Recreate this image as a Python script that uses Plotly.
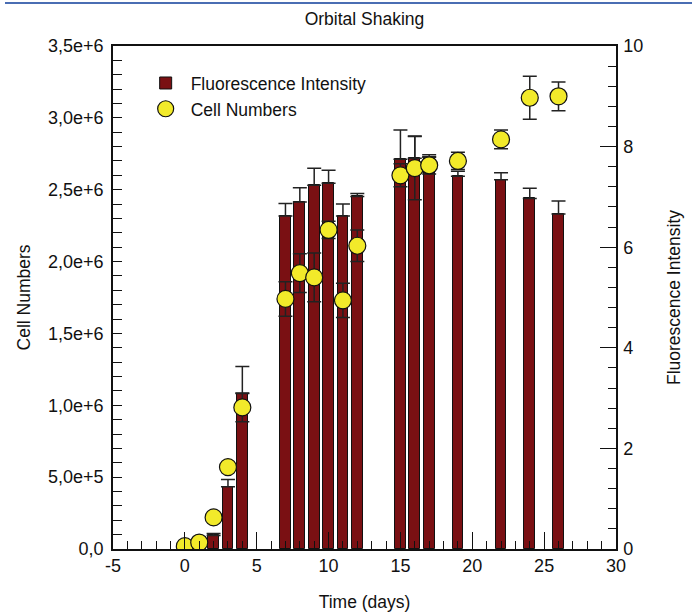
import plotly.graph_objects as go

# ---- data ----
fluo_days = [2, 3, 4, 7, 8, 9, 10, 11, 12, 15, 16, 17, 19, 22, 24, 26]
fluo_vals = [0.27, 1.24, 3.09, 6.62, 6.90, 7.23, 7.27, 6.62, 7.01, 7.75, 7.77, 7.79, 7.41, 7.34, 6.97, 6.66]
fluo_err = [0.04, 0.14, 0.54, 0.25, 0.28, 0.34, 0.26, 0.24, 0.06, 0.58, 0.44, 0.05, 0.10, 0.14, 0.20, 0.26]

cell_days = [0, 1, 2, 3, 4, 7, 8, 9, 10, 11, 12, 15, 16, 17, 19, 22, 24, 26]
cell_vals = [0.02e6, 0.045e6, 0.22e6, 0.57e6, 0.985e6, 1.74e6, 1.92e6, 1.89e6, 2.22e6, 1.73e6, 2.11e6,
             2.60e6, 2.65e6, 2.67e6, 2.70e6, 2.85e6, 3.14e6, 3.15e6]
cell_err = [0, 0, 0, 0, 0.10e6, 0.12e6, 0.135e6, 0.17e6, 0.06e6, 0.12e6, 0.11e6,
            0.08e6, 0.22e6, 0.06e6, 0.06e6, 0.065e6, 0.15e6, 0.10e6]

cell_tickvals = [0, 5e5, 1e6, 1.5e6, 2e6, 2.5e6, 3e6, 3.5e6]
cell_ticktext = ["0,0", "5,0e+5", "1,0e+6", "1,5e+6", "2,0e+6", "2,5e+6", "3,0e+6", "3,5e+6"]
day_tickvals = [-5, 0, 5, 10, 15, 20, 25, 30]
day_ticktext = ["-5", "0", "5", "10", "15", "20", "25", "30"]

FONT = "Liberation Sans, Arial, sans-serif"
INK = "#111111"
BAR = "#7a1013"
YEL = "#f2ea2a"

fig = go.Figure()
fig.add_trace(go.Bar(
    x=fluo_days, y=fluo_vals, name="Fluorescence Intensity", yaxis="y", width=0.75,
    marker=dict(color=BAR, line=dict(color="#111111", width=1)),
    error_y=dict(type="data", symmetric=False, array=fluo_err, arrayminus=[0] * len(fluo_err),
                 color="#222222", thickness=1.5, width=7),
))
fig.add_trace(go.Scatter(
    x=cell_days, y=cell_vals, name="Cell Numbers", yaxis="y2", mode="markers",
    marker=dict(color=YEL, size=17, line=dict(color="#111111", width=1.2)),
    error_y=dict(type="data", array=cell_err, color="#222222", thickness=1.5, width=7),
))

axis_common = dict(showline=True, linecolor=INK, linewidth=1.5, ticks="inside", tickcolor=INK,
                   tickwidth=1.2, showgrid=False, zeroline=False, automargin=False,
                   tickfont=dict(family=FONT, size=18, color=INK),
                   title_font=dict(family=FONT, size=17.5, color=INK))

fig.update_layout(
    width=698, height=615,
    margin=dict(l=113, r=82, t=46, b=66),
    paper_bgcolor="white", plot_bgcolor="white",
    font=dict(family=FONT, size=17, color=INK),
    bargap=0,
    title=dict(text="Orbital Shaking", x=0.5, xref="paper", xanchor="center",
               y=1 - 19 / 615, yanchor="middle", font=dict(family=FONT, size=17.5, color=INK)),
    xaxis=dict(range=[-5, 30], tickmode="array", tickvals=day_tickvals, ticktext=day_ticktext,
               ticklen=17, mirror=True, ticklabelstandoff=0,
               minor=dict(tickmode="linear", tick0=0, dtick=1, ticklen=8, ticks="inside",
                          tickcolor=INK, tickwidth=1.2),
               title=dict(text="Time (days)", standoff=20), **axis_common),
    yaxis=dict(range=[0, 10], side="right", tickmode="linear", tick0=0, dtick=2, ticklen=16,
               ticklabelstandoff=2,
               minor=dict(tickmode="linear", tick0=0, dtick=0.4, ticklen=8, ticks="inside",
                          tickcolor=INK, tickwidth=1.2),
               title=dict(text="Fluorescence Intensity", standoff=25), **axis_common),
    yaxis2=dict(range=[0, 3.5e6], side="left", overlaying="y", tickmode="array",
                tickvals=cell_tickvals, ticktext=cell_ticktext, ticklen=9, ticklabelstandoff=4,
                minor=dict(tickmode="linear", tick0=0, dtick=1e5, ticklen=9, ticks="inside",
                           tickcolor=INK, tickwidth=1.2),
                title=dict(text="Cell Numbers", standoff=13), **axis_common),
    legend=dict(x=0.055, y=0.962, xanchor="left", yanchor="top", bgcolor="rgba(0,0,0,0)",
                font=dict(family=FONT, size=17.5, color=INK), traceorder="normal",
                tracegroupgap=0, itemwidth=40),
    showlegend=True,
)

# decorative page rule at the very top
fig.add_shape(type="line", xref="paper", yref="paper",
              x0=(5 - 113) / 503, x1=(692 - 113) / 503,
              y0=(548.5 - 3) / 502.5, y1=(548.5 - 3) / 502.5,
              line=dict(color="#4a6db3", width=2))

fig.write_html("out.html")
